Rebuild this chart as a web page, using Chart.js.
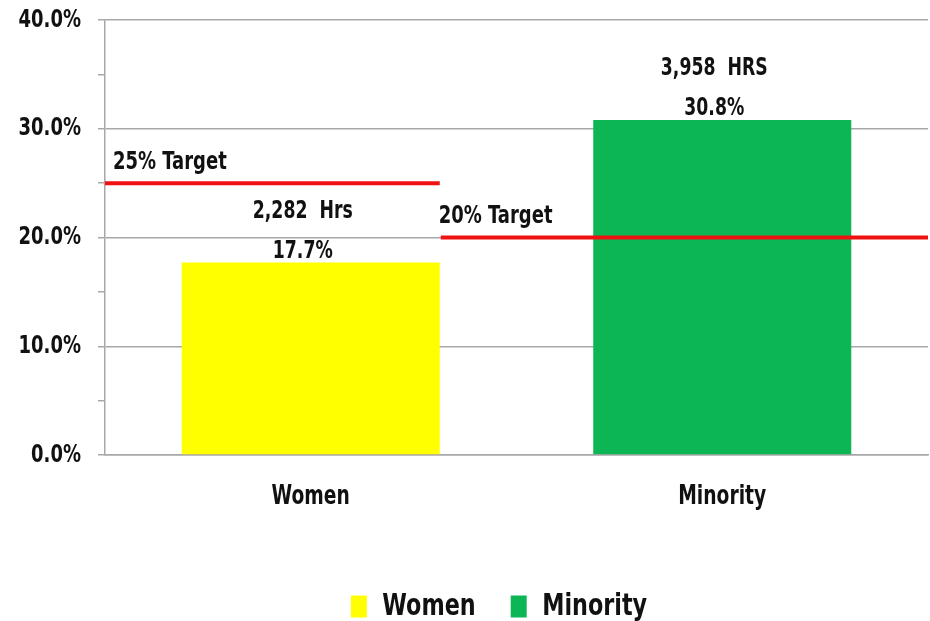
<!DOCTYPE html>
<html>
<head>
  <meta charset="UTF-8">
  <title>Women / Minority Hours</title>
  <style>
    body { margin: 0; background: #fff; }
    #wrap { width: 930px; height: 621px; }
  </style>
  <script src="https://cdn.jsdelivr.net/npm/chart.js"></script>
</head>
<body>
  <div id="wrap"><canvas id="hours" width="930" height="621"></canvas></div>

  <script>
    // values
    const categories = ['Women', 'Minority'];
    const percentValues = [17.7, 30.8];
    const hoursLabels = ['2,282  Hrs', '3,958  HRS'];
    const barColors = ['#ffff00', '#0db654'];
    const targets = [25, 20];
    const targetLabels = ['25% Target', '20% Target'];
    const yMin = 0, yMax = 40, yStep = 5;

    const FONT = "'Liberation Sans Narrow', 'DejaVu Sans Condensed', 'Arial Narrow', sans-serif";
    Chart.defaults.font.family = FONT;
    Chart.defaults.font.weight = 'bold';
    Chart.defaults.color = '#111';

    const GRID = '#a8a8a8';

    // the original uses a tall narrow face; squeeze text horizontally on this canvas
    const canvas = document.getElementById('hours');
    const c2d = canvas.getContext('2d');
    const SQUEEZE = 0.8;
    const rawFill = c2d.fillText.bind(c2d);
    const rawMeasure = c2d.measureText.bind(c2d);
    c2d.fillText = function (text, x, y) {
      this.save();
      this.translate(x, y);
      this.scale(SQUEEZE, 1);
      rawFill(text, 0, 0);
      this.restore();
    };
    c2d.measureText = function (text) {
      const m = rawMeasure(text);
      return {
        width: m.width * SQUEEZE,
        actualBoundingBoxAscent: m.actualBoundingBoxAscent,
        actualBoundingBoxDescent: m.actualBoundingBoxDescent
      };
    };

    // one dataset per category so the legend shows both
    const datasets = categories.map((name, i) => ({
      label: name,
      data: categories.map((c, j) => (i === j ? percentValues[i] : null)),
      backgroundColor: barColors[i],
      borderWidth: 0,
      grouped: false,
      barPercentage: 0.627,
      categoryPercentage: 1
    }));

    const overlay = {
      id: 'overlay',
      afterLayout(chart) {
        // legend sits a bit right of centre in the original
        chart.legend.left += 35;
        chart.legend.right += 35;
      },
      afterDatasetsDraw(chart) {
        const ctx = chart.ctx;
        const y = chart.scales.y;
        const area = chart.chartArea;
        const firstBar = chart.getDatasetMeta(0).data[0];
        const firstRight = firstBar.x + firstBar.width / 2;

        // target lines
        const spans = [[area.left, firstRight], [firstRight + 1, area.right]];
        ctx.save();
        ctx.strokeStyle = '#f01212';
        ctx.lineWidth = 4;
        targets.forEach((t, i) => {
          const py = y.getPixelForValue(t);
          ctx.beginPath();
          ctx.moveTo(spans[i][0], py);
          ctx.lineTo(spans[i][1], py);
          ctx.stroke();
        });

        ctx.fillStyle = '#111';
        ctx.font = 'bold 25px ' + FONT;
        ctx.textBaseline = 'middle';
        ctx.textAlign = 'left';
        targets.forEach((t, i) => {
          const py = y.getPixelForValue(t);
          const lx = i === 0 ? spans[i][0] + 8 : spans[i][0] - 2;
          ctx.fillText(targetLabels[i], lx, py - 21);
        });

        // value labels above bars
        ctx.font = 'bold 24px ' + FONT;
        ctx.textAlign = 'center';
        categories.forEach((c, i) => {
          const bar = chart.getDatasetMeta(i).data[i];
          ctx.fillText(percentValues[i].toFixed(1) + '%', bar.x - 8, bar.y - 11);
          ctx.fillText(hoursLabels[i], bar.x - 8, bar.y - 51);
        });
        ctx.restore();
      }
    };

    new Chart(canvas, {
      type: 'bar',
      data: { labels: categories, datasets },
      options: {
        responsive: false,
        devicePixelRatio: 1,
        animation: false,
        layout: { padding: { top: 20, right: 2, left: 0, bottom: -11 } },
        plugins: {
          tooltip: { enabled: false },
          legend: {
            position: 'bottom',
            labels: {
              boxWidth: 16,
              boxHeight: 22,
              padding: 35,
              font: { size: 31, weight: 'bold' },
              color: '#111'
            }
          }
        },
        scales: {
          x: {
            grid: { display: false, drawTicks: false },
            border: { color: GRID, width: 1.5 },
            ticks: { padding: 27, font: { size: 26, weight: 'bold' } },
            afterFit(s) { s.height = 101; }
          },
          y: {
            min: yMin,
            max: yMax,
            grid: {
              color: c => (c.tick && c.tick.value % 10 === 0 ? GRID : 'rgba(0,0,0,0)'),
              tickColor: GRID,
              tickLength: 7,
              lineWidth: 1.5
            },
            border: { color: GRID, width: 1.5 },
            ticks: {
              stepSize: yStep,
              padding: 17,
              font: { size: 25, weight: 'bold' },
              callback: v => (v % 10 === 0 ? v.toFixed(1) + '%' : '')
            },
            afterFit(s) {
              s.width = 105;
              s.paddingTop = 0;
            }
          }
        }
      },
      plugins: [overlay]
    });
  </script>
</body>
</html>
